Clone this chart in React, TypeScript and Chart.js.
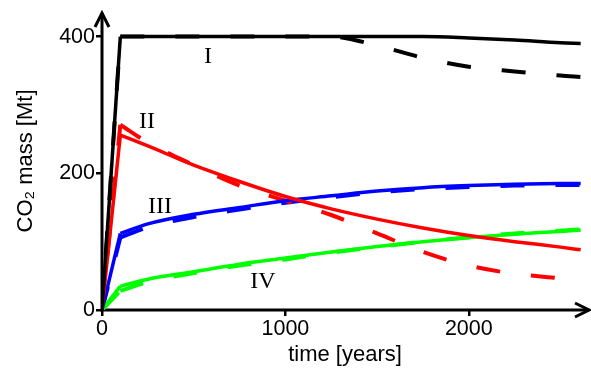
import React, { useEffect, useRef } from "react";
import { Chart, registerables } from "chart.js";

Chart.register(...registerables);

const TIME = [0, 100, 250, 500, 750, 1000, 1250, 1500, 1750, 2000, 2250, 2500, 2610];

const I_SOLID = [0, 400, 400, 400, 400, 400, 400, 400, 400, 398, 395, 391, 390];
const I_DASHED = [0, 400, 400, 400, 400, 400, 400, 387, 369, 356, 349, 343, 341];
const II_SOLID = [0, 256, 240, 212, 188, 166, 148, 133, 120, 109, 100, 92, 88];
const II_DASHED = [0, 271, 245, 212, 182, 160, 139, 112, 85, 65, 53, 46, 41];
const III_SOLID = [0, 112, 126, 140, 150, 160, 167, 174, 179, 182, 184, 185, 185];
const III_DASHED = [0, 106, 121, 136, 147, 157, 165, 172, 177, 180, 182, 183, 183];
const IV_SOLID = [0, 35, 45, 56, 67, 76, 85, 93, 100, 106, 111, 115, 117];
const IV_DASHED = [0, 28, 41, 54, 65, 74, 84, 92, 100, 106, 112, 116, 118];

const CASE_NAMES = ["I", "II", "III", "IV"];
const CASE_LABEL_X = [578, 245, 316, 877];
const CASE_LABEL_Y = [370, 275, 151, 41];

const X_MIN = 0;
const X_MAX = 2650;
const X_TICKS = [0, 1000, 2000];
const Y_MIN = 0;
const Y_MAX = 436;
const Y_TICKS = [0, 200, 400];

const X_TITLE = "time [years]";
const Y_TITLE = "CO\u2082 mass [Mt]";

const toPts = (ys: number[]) => TIME.map((t, i) => ({ x: t, y: ys[i] }));

export default function App() {
  const ref = useRef<HTMLCanvasElement | null>(null);

  useEffect(() => {
    if (!ref.current) return;

    // each curve: a straight injection ramp (first two points) + a smooth tail
    const lineDs = (data: number[], color: string, dashed: boolean, order: number) => {
      const pts = toPts(data);
      const base = {
        borderColor: color,
        backgroundColor: color,
        borderWidth: dashed ? 4 : 3.5,
        borderDash: dashed ? [24, 31] : [],
        pointRadius: 0,
        fill: false,
        order,
      };
      return [
        { ...base, data: pts.slice(0, 2), tension: 0 },
        { ...base, data: pts.slice(1), cubicInterpolationMode: "monotone" as const },
      ];
    };

    const axesPlugin = {
      id: "axesArrows",
      beforeDatasetsDraw(chart: any) {
        const { ctx, chartArea } = chart;
        const x0 = chartArea.left;
        const y0 = chartArea.bottom;
        const top = chartArea.top;
        const right = chartArea.right + 1;
        ctx.save();
        ctx.strokeStyle = "#000";
        ctx.lineWidth = 3;
        ctx.lineCap = "butt";
        ctx.beginPath();
        ctx.moveTo(x0, y0 + 1.5);
        ctx.lineTo(x0, top + 1);
        ctx.moveTo(x0 - 1.5, y0);
        ctx.lineTo(right - 1, y0);
        ctx.stroke();
        ctx.lineJoin = "miter";
        ctx.beginPath();
        ctx.moveTo(x0 - 7, top + 15);
        ctx.lineTo(x0, top + 1);
        ctx.lineTo(x0 + 7, top + 15);
        ctx.moveTo(right - 14, y0 - 7);
        ctx.lineTo(right, y0);
        ctx.lineTo(right - 14, y0 + 7);
        ctx.stroke();
        ctx.restore();
      },
      afterDatasetsDraw(chart: any) {
        const { ctx, scales } = chart;
        ctx.save();
        ctx.fillStyle = "#000";
        ctx.font = '24px "Liberation Serif", "Times New Roman", serif';
        ctx.textAlign = "center";
        ctx.textBaseline = "middle";
        CASE_NAMES.forEach((name, i) => {
          ctx.fillText(
            name,
            scales.x.getPixelForValue(CASE_LABEL_X[i]),
            scales.y.getPixelForValue(CASE_LABEL_Y[i])
          );
        });
        ctx.restore();
      },
    };

    const tickFont = { family: '"Liberation Sans", Arial, sans-serif', size: 21.5 };
    const titleFont = { family: '"Liberation Sans", Arial, sans-serif', size: 22 };

    const chart = new Chart(ref.current, {
      type: "line",
      data: {
        datasets: [
          ...lineDs(I_SOLID, "#000000", false, 1),
          ...lineDs(II_SOLID, "#ff0000", false, 1),
          ...lineDs(III_SOLID, "#0000ff", false, 1),
          ...lineDs(IV_SOLID, "#00ff00", false, 1),
          ...lineDs(I_DASHED, "#000000", true, 2),
          ...lineDs(II_DASHED, "#ff0000", true, 2),
          ...lineDs(III_DASHED, "#0000ff", true, 2),
          ...lineDs(IV_DASHED, "#00ff00", true, 2),
        ] as any,
      },
      options: {
        animation: false,
        responsive: false,
        devicePixelRatio: 1,
        layout: { padding: { top: 12, right: 3, left: 0, bottom: 0 } },
        plugins: { legend: { display: false }, tooltip: { enabled: false } },
        scales: {
          x: {
            type: "linear",
            min: X_MIN,
            max: X_MAX,
            border: { display: false },
            grid: {
              drawOnChartArea: false,
              drawTicks: true,
              tickLength: 6,
              lineWidth: 2.5,
              color: "#000",
            },
            afterBuildTicks(scale: any) {
              scale.ticks = X_TICKS.map((v) => ({ value: v }));
            },
            ticks: {
              color: "#000",
              font: tickFont,
              padding: 0,
              maxRotation: 0,
              autoSkip: false,
              callback: (v: any) => String(v),
            },
            title: {
              display: true,
              text: X_TITLE,
              color: "#000",
              font: titleFont,
              padding: { top: 0, bottom: 0 },
            },
            afterFit(scale: any) {
              scale.height = 58;
              scale.paddingLeft = 0;
              scale.paddingRight = 0;
              scale.paddingTop = 0;
              scale.paddingBottom = 0;
            },
          },
          y: {
            type: "linear",
            min: Y_MIN,
            max: Y_MAX,
            border: { display: false },
            grid: {
              drawOnChartArea: false,
              drawTicks: true,
              tickLength: 6,
              lineWidth: 2.5,
              color: "#000",
            },
            afterBuildTicks(scale: any) {
              scale.ticks = Y_TICKS.map((v) => ({ value: v }));
            },
            ticks: {
              color: "#000",
              font: tickFont,
              padding: 1,
              autoSkip: false,
              callback: (v: any) => String(v),
            },
            title: {
              display: true,
              text: Y_TITLE,
              color: "#000",
              font: titleFont,
              padding: { top: 13, bottom: 0 },
            },
            afterFit(scale: any) {
              scale.width = 102;
              scale.paddingLeft = 0;
              scale.paddingRight = 0;
              scale.paddingTop = 0;
              scale.paddingBottom = 0;
            },
          },
        },
      },
      plugins: [axesPlugin],
    });

    return () => chart.destroy();
  }, []);

  return (
    <div style={{ position: "absolute", left: 0, top: 0, width: 591, height: 368, background: "#fff" }}>
      <canvas ref={ref} width={591} height={368} style={{ width: 591, height: 368 }} />
    </div>
  );
}
